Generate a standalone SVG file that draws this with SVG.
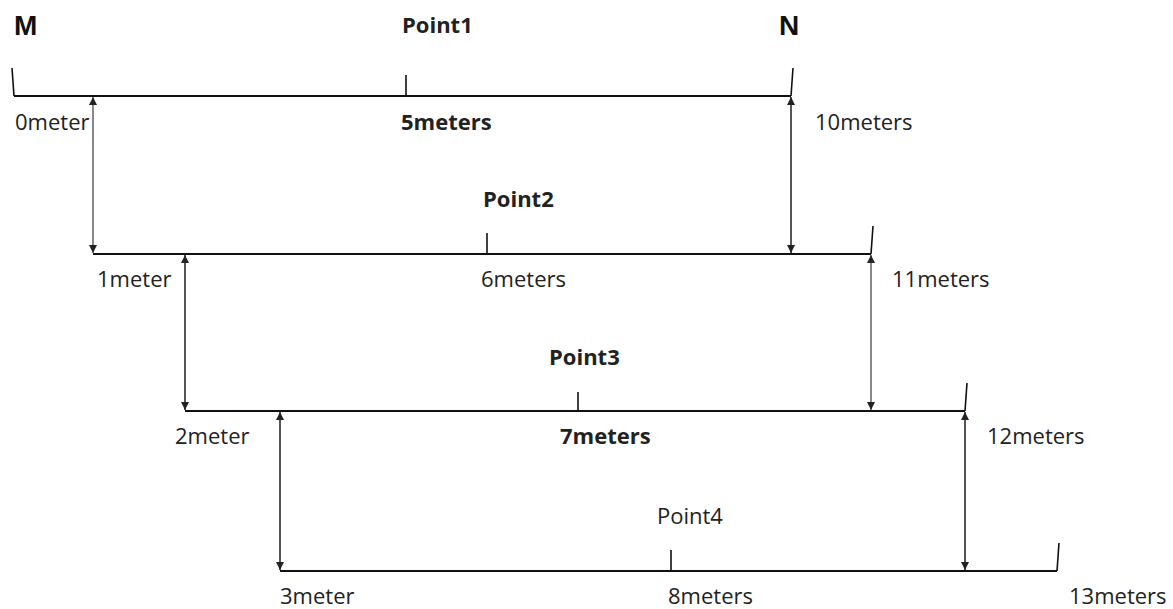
<svg xmlns="http://www.w3.org/2000/svg" width="1173" height="609" viewBox="0 0 1173 609">
<style>
.ln{stroke:#111;stroke-width:2;fill:none}
.tk{stroke:#111;stroke-width:1.6;fill:none}
.t{font-family:"Open Sans","Liberation Sans",sans-serif;font-size:22px;fill:#222}
.b{font-weight:bold}
.big{font-family:"Liberation Sans",Arial,sans-serif;font-size:28px;font-weight:bold;fill:#111}
.ar{stroke:#555;stroke-width:2;fill:none;marker-start:url(#ah);marker-end:url(#ah)}
.ar2{stroke:#888;stroke-width:2;fill:none;marker-start:url(#ah2);marker-end:url(#ah2)}
</style>
<defs>
<marker id="ah" viewBox="0 0 10 10" refX="10" refY="5" markerWidth="4" markerHeight="4" orient="auto-start-reverse" markerUnits="strokeWidth"><path d="M0,0 L10,5 L0,10 z" fill="#222"/></marker>
<marker id="ah2" viewBox="0 0 10 10" refX="10" refY="5" markerWidth="4" markerHeight="4" orient="auto-start-reverse" markerUnits="strokeWidth"><path d="M0,0 L10,5 L0,10 z" fill="#222"/></marker>
</defs>
<rect width="1173" height="609" fill="#fff"/>
<g id="line1">
<path class="ln" d="M14,96 H791"/>
<path class="tk" d="M12,68 L14,96 M793,68 L791,96 M406,75 V96"/>
<text class="big" x="14" y="35">M</text>
<text class="big" x="779" y="35">N</text>
<text class="t b" x="402" y="33" font-size="20">Point1</text>
<text class="t" x="15" y="130">0meter</text>
<text class="t b" x="401" y="130">5meters</text>
<text class="t" x="815" y="130">10meters</text>
</g>
<g id="line2">
<path class="ln" d="M93,254 H871"/>
<path class="tk" d="M873,226 L871,254 M487,233 V254"/>
<text class="t b" x="483" y="207" font-size="20">Point2</text>
<text class="t" x="97" y="287">1meter</text>
<text class="t" x="481" y="287">6meters</text>
<text class="t" x="892" y="287">11meters</text>
</g>
<g id="line3">
<path class="ln" d="M185,411 H965"/>
<path class="tk" d="M967,383 L965,411 M578,392 V411"/>
<text class="t b" x="549" y="365" font-size="20">Point3</text>
<text class="t" x="175" y="444">2meter</text>
<text class="t b" x="560" y="444">7meters</text>
<text class="t" x="987" y="444">12meters</text>
</g>
<g id="line4">
<path class="ln" d="M280,571 H1057"/>
<path class="tk" d="M1059,543 L1057,571 M671,550 V571"/>
<text class="t" x="657" y="524" font-size="20">Point4</text>
<text class="t" x="280" y="604">3meter</text>
<text class="t" x="668" y="604">8meters</text>
<text class="t" x="1069" y="604">13meters</text>
</g>
<g id="connectors">
<path class="ar2" d="M93,97 V253"/>
<path class="ar" d="M791,97 V253"/>
<path class="ar" d="M185,255 V410"/>
<path class="ar2" d="M871,255 V410"/>
<path class="ar" d="M280,412 V570"/>
<path class="ar" d="M965,412 V570"/>
</g>
</svg>
